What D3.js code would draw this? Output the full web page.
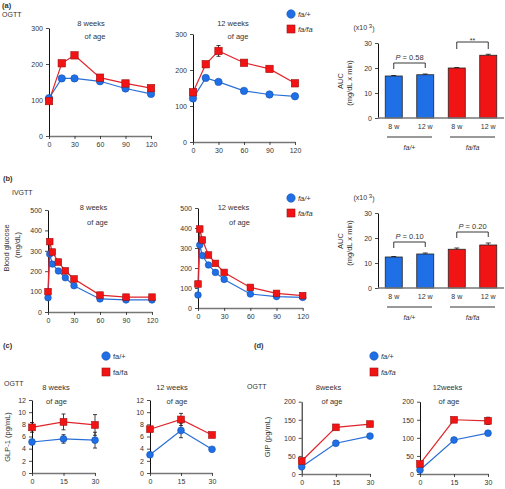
<!DOCTYPE html>
<html><head><meta charset="utf-8">
<script src="https://cdn.jsdelivr.net/npm/d3@7"></script>
<style>body{margin:0;background:#fff} text{font-family:"Liberation Sans",Arial,sans-serif;fill:#333}</style>
</head><body><svg id="c" width="505" height="489"></svg>
<script>
// ---------- DATA ----------
const ogttTime=[0,15,30,60,90,120];
const ogtt8Het=[105,160,160,152,132,117];
const ogtt8Hom=[97,202,224,162,146,133];
const ogtt12Het=[121,178,167,142,132,127];
const ogtt12Hom=[138,216,253,220,203,163];
const ogtt12HomErr=[0,6,15,0,0,0];
const ogttTicksY=[0,100,200,300];
const minTicks=[0,30,60,90,120];

const ivgttTime=[0,2,5,12,20,30,60,90,120];
const ivgtt8Het=[70,284,235,201,168,129,64,59,59];
const ivgtt8Hom=[100,345,294,245,202,162,83,73,73];
const ivgtt12Het=[65,315,262,215,178,143,70,57,53];
const ivgtt12Hom=[120,395,340,265,223,178,103,73,62];
const ivgttTicksY=[0,100,200,300,400,500];

const aucCats=["fa/+ 8 w","fa/+ 12 w","fa/fa 8 w","fa/fa 12 w"];
const aucLabels=["8 w","12 w","8 w","12 w"];
const ogttAuc=[16.8,17.3,20.0,25.1];
const ogttAucErr=[0.2,0.3,0.2,0.4];
const ivgttAuc=[12.4,13.6,15.5,17.2];
const ivgttAucErr=[0.2,0.4,0.5,0.8];
const aucTicks=[0,10,20,30];

const hormTime=[0,15,30];
const glp8Het=[5.1,5.6,5.4], glp8HetErr=[0.4,0.7,1.3];
const glp8Hom=[7.5,8.4,7.9], glp8HomErr=[0.8,1.3,1.7];
const glp12Het=[3.0,7.0,3.9], glp12HetErr=[0.3,1.2,0.2];
const glp12Hom=[7.2,8.8,6.25], glp12HomErr=[0.3,1.0,0.3];
const glpTicks=[0,2,4,6,8,10,12];

const gip8Het=[20,85,105], gip8HetErr=[3,5,3];
const gip8Hom=[36,129,138], gip8HomErr=[3,5,4];
const gip12Het=[11,94,113], gip12HetErr=[3,4,4];
const gip12Hom=[28,150,147], gip12HomErr=[3,4,10];
const gipTicks=[0,50,100,150,200];

// ---------- STYLE ----------
const BLUE="#1f6fe6", BLUEL="#2a6fd6", RED="#f21414", REDL="#e0242c";
const svg=d3.select("#c");

function styleAxis(a,domCol,domW){
  a.selectAll("text").style("font-size","7px").attr("fill","#444");
  a.selectAll(".tick line").attr("stroke","#222").attr("stroke-width",0.8);
  a.select(".domain").attr("stroke",domCol).attr("stroke-width",domW);
}
function marker(g,shape,cx,cy,r,fill,stroke){
  if(shape==="c") g.append("circle").attr("cx",cx).attr("cy",cy).attr("r",r).attr("fill",fill).attr("stroke",stroke).attr("stroke-width",0.6);
  else g.append("rect").attr("x",cx-r).attr("y",cy-r).attr("width",2*r).attr("height",2*r).attr("fill",fill).attr("stroke",stroke).attr("stroke-width",0.6);
}
function txt(x,y,s,o={}){
  const t=svg.append("text").attr("x",x).attr("y",y).attr("dy","0.35em").text(s)
    .style("font-size",(o.size||7.5)+"px").attr("text-anchor",o.anchor||"middle");
  if(o.italic) t.style("font-style","italic");
  if(o.bold) t.style("font-weight","bold");
  if(o.rot) t.attr("transform",`rotate(-90,${x},${y})`);
  return t;
}

function linePanel(o){
  const x=d3.scaleLinear().domain(o.xd).range([o.left,o.right]);
  const y=d3.scaleLinear().domain(o.yd).range([o.bottom,o.top]);
  const g=svg.append("g");
  styleAxis(g.append("g").attr("transform",`translate(${o.left},0)`)
    .call(d3.axisLeft(y).tickValues(o.yt).tickSize(3).tickSizeOuter(0).tickPadding(3)),"#111",1);
  styleAxis(g.append("g").attr("transform",`translate(0,${o.bottom})`)
    .call(d3.axisBottom(x).tickValues(o.xt).tickSize(3).tickSizeOuter(0).tickPadding(3)),"#777",1.6);
  const line=d3.line().x(d=>x(d.t)).y(d=>y(d.v));
  const ser=o.series.map(s=>({s,pts:o.xs.map((t,i)=>({t,v:s.v[i],e:s.e?s.e[i]:0}))}));
  ser.forEach(({s,pts})=>{
    g.append("path").datum(pts).attr("d",line).attr("fill","none").attr("stroke",s.lc).attr("stroke-width",1.2);
  });
  ser.forEach(({s,pts})=>{
    pts.filter(d=>d.e>0).forEach(d=>{
      const cx=x(d.t), y1=y(d.v+d.e), y2=y(d.v-d.e);
      g.append("line").attr("x1",cx).attr("x2",cx).attr("y1",y1).attr("y2",y2).attr("stroke","#111").attr("stroke-width",0.8);
      [y1,y2].forEach(yy=>g.append("line").attr("x1",cx-2).attr("x2",cx+2).attr("y1",yy).attr("y2",yy).attr("stroke","#111").attr("stroke-width",0.8));
    });
  });
  ser.forEach(({s,pts})=>{
    pts.forEach(d=>marker(g,s.shape,x(d.t),y(d.v),o.r,s.fc,s.sc));
  });
}

function barPanel(o){
  const x=d3.scaleBand().domain(aucCats).range([378,504]).paddingInner(0.46).paddingOuter(0.23);
  const y=d3.scaleLinear().domain([0,30]).range([o.bottom,o.top]);
  const g=svg.append("g");
  const cols=[BLUE,BLUE,RED,RED];
  aucCats.forEach((c,i)=>{
    g.append("rect").attr("x",x(c)).attr("width",x.bandwidth()).attr("y",y(o.v[i])).attr("height",y(0)-y(o.v[i]))
      .attr("fill",cols[i]).attr("stroke","#222").attr("stroke-width",0.8);
    const cx=x(c)+x.bandwidth()/2, y1=y(o.v[i]+o.e[i]);
    g.append("line").attr("x1",cx).attr("x2",cx).attr("y1",y1).attr("y2",y(o.v[i])).attr("stroke","#111").attr("stroke-width",0.8);
    g.append("line").attr("x1",cx-2.5).attr("x2",cx+2.5).attr("y1",y1).attr("y2",y1).attr("stroke","#111").attr("stroke-width",0.8);
  });
  styleAxis(g.append("g").attr("transform",`translate(378,0)`)
    .call(d3.axisLeft(y).tickValues(aucTicks).tickSize(3).tickSizeOuter(0).tickPadding(3)),"#111",1);
  const xa=g.append("g").attr("transform",`translate(0,${o.bottom})`)
    .call(d3.axisBottom(x).tickSize(0).tickPadding(6).tickFormat((d,i)=>aucLabels[i]));
  styleAxis(xa,"#777",1.6);
  xa.select(".domain").attr("d",`M378,0H504`);
  // group lines
  [[0,1,"fa/+"],[2,3,"fa/fa"]].forEach(([a,b,l])=>{
    const c=(x(aucCats[a])+x(aucCats[b])+x.bandwidth())/2;
    g.append("line").attr("x1",c-22.5).attr("x2",c+22.5).attr("y1",o.bottom+19).attr("y2",o.bottom+19).attr("stroke","#777").attr("stroke-width",1.5);
    txt(c,o.bottom+30,l,{italic:true,size:7});
  });
  // brackets
  o.br.forEach(b=>{
    const xa1=x(aucCats[b.a])+x.bandwidth()/2, xb=x(aucCats[b.b])+x.bandwidth()/2;
    g.append("path").attr("d",`M${xa1},${b.y+b.l1}V${b.y}H${xb}V${b.y+b.l2}`).attr("fill","none").attr("stroke","#222").attr("stroke-width",0.9);
    if(b.t==="**") txt((xa1+xb)/2,b.y-1.5,"**",{size:7});
    else {
      const t=svg.append("text").attr("x",(xa1+xb)/2).attr("y",b.y-6).attr("dy","0.35em").attr("text-anchor","middle").style("font-size","7.5px");
      t.append("tspan").text("P").style("font-style","italic");
      t.append("tspan").text(" = "+b.t);
    }
  });
  // y labels
  txt(340,o.ly,"AUC",{rot:true,size:7.5});
  txt(349,o.ly+2,"(mg/dL x min)",{rot:true,size:7.5});
  const t=svg.append("text").attr("x",364).attr("y",o.top-15).attr("dy","0.35em").attr("text-anchor","middle").style("font-size","7px");
  t.append("tspan").text("(x10");
  t.append("tspan").text(" 3").attr("dy","-0.4em").style("font-size","6px");
  t.append("tspan").text(")").attr("dy","0.4em");
}

const het=(v,e)=>({v,e,shape:"c",fc:BLUE,sc:"#1450b0",lc:BLUEL});
const hom=(v,e)=>({v,e,shape:"s",fc:RED,sc:"#a01010",lc:REDL});

// ---- (a) OGTT ----
linePanel({left:49,right:151,bottom:136,top:28,xd:[0,120],yd:[0,300],xt:minTicks,yt:ogttTicksY,xs:ogttTime,r:3.7,
  series:[het(ogtt8Het),hom(ogtt8Hom)]});
linePanel({left:193,right:295,bottom:142,top:34,xd:[0,120],yd:[0,300],xt:minTicks,yt:ogttTicksY,xs:ogttTime,r:3.7,
  series:[het(ogtt12Het),hom(ogtt12Hom,ogtt12HomErr)]});
barPanel({bottom:118,top:43,v:ogttAuc,e:ogttAucErr,ly:81,
  br:[{a:0,b:1,y:63,l1:6,l2:5,t:"0.58"},{a:2,b:3,y:42,l1:7,l2:7,t:"**"}]});

// ---- (b) IVGTT ----
linePanel({left:48,right:152,bottom:312,top:210,xd:[0,120],yd:[0,500],xt:minTicks,yt:ivgttTicksY,xs:ivgttTime,r:3.3,
  series:[het(ivgtt8Het),hom(ivgtt8Hom)]});
linePanel({left:198,right:302.7,bottom:308,top:208,xd:[0,120],yd:[0,500],xt:minTicks,yt:ivgttTicksY,xs:ivgttTime,r:3.3,
  series:[het(ivgtt12Het),hom(ivgtt12Hom,[0,0,0,0,0,0,0,0,0])]});
barPanel({bottom:288,top:213,v:ivgttAuc,e:ivgttAucErr,ly:241,
  br:[{a:0,b:1,y:242,l1:6,l2:5,t:"0.10"},{a:2,b:3,y:232,l1:6,l2:5,t:"0.20"}]});

// ---- (c) GLP-1 ----
linePanel({left:32,right:95,bottom:473,top:400,xd:[0,30],yd:[0,12],xt:hormTime,yt:glpTicks,xs:hormTime,r:3.4,
  series:[het(glp8Het,glp8HetErr),hom(glp8Hom,glp8HomErr)]});
linePanel({left:150,right:212,bottom:473,top:400,xd:[0,30],yd:[0,12],xt:hormTime,yt:glpTicks,xs:hormTime,r:3.4,
  series:[het(glp12Het,glp12HetErr),hom(glp12Hom,glp12HomErr)]});

// ---- (d) GIP ----
linePanel({left:301.7,right:370,bottom:474,top:401.7,xd:[0,30],yd:[0,200],xt:hormTime,yt:gipTicks,xs:hormTime,r:3.4,
  series:[het(gip8Het,gip8HetErr),hom(gip8Hom,gip8HomErr)]});
linePanel({left:420,right:488,bottom:474,top:401.7,xd:[0,30],yd:[0,200],xt:hormTime,yt:gipTicks,xs:hormTime,r:3.4,
  series:[het(gip12Het,gip12HetErr),hom(gip12Hom,gip12HomErr)]});

// ---- text ----
txt(2,5,"(a)",{anchor:"start",bold:true,size:7.5});
txt(2,15,"OGTT",{anchor:"start",size:7});
txt(91,23,"8 weeks");txt(95,36,"of age");
txt(233,23,"12 weeks");txt(238,36,"of age");

txt(3,178,"(b)",{anchor:"start",bold:true,size:7.5});
txt(12,193,"IVGTT",{anchor:"start",size:7});
txt(93.5,207,"8 weeks");txt(97.5,222,"of age");
txt(233.5,207,"12 weeks");txt(239.5,222,"of age");
txt(6,248,"Blood glucose",{rot:true});
txt(17,245,"(mg/dL)",{rot:true});

txt(3,345,"(c)",{anchor:"start",bold:true,size:7.5});
txt(4,384,"OGTT",{anchor:"start",size:7});
txt(56,387,"8 weeks");txt(56.5,401,"of age");
txt(172,387,"12 weeks");txt(177,401,"of age");
txt(7,437,"GLP-1 (pg/mL)",{rot:true});

txt(254,345,"(d)",{anchor:"start",bold:true,size:7.5});
txt(247,387,"OGTT",{anchor:"start",size:7});
txt(328.5,387,"8weeks");txt(332,401,"of age");
txt(447.5,387,"12weeks");txt(449,401,"of age");
txt(267,437,"GIP (pg/mL)",{rot:true});

// legends
function legend(x,y1,y2,italic){
  const g=svg.append("g");
  marker(g,"c",x,y1,4.2,BLUE,"#1450b0");
  marker(g,"s",x,y2,4,RED,"#a01010");
  txt(x+7,y1,"fa/+",{anchor:"start",italic});
  txt(x+7,y2,"fa/fa",{anchor:"start",italic});
}
legend(291,14,29,true);
legend(291,198,213,true);
legend(106,356,372,false);
legend(374,356,372,true);
</script></body></html>
